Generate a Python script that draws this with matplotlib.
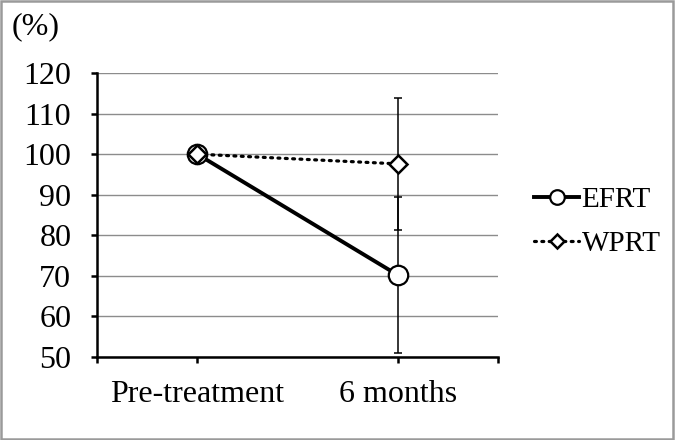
import matplotlib
matplotlib.use("Agg")
import matplotlib.pyplot as plt
from matplotlib.patches import Rectangle

categories = ["Pre-treatment", "6 months"]
efrt = [100, 70.2]
efrt_err = [0, 19.3]
wprt = [100, 97.6]
wprt_err = [0, 16.3]
yticks = [50, 60, 70, 80, 90, 100, 110, 120]

plt.rcParams['font.family'] = ['Liberation Serif', 'DejaVu Serif']
FS = 23

fig = plt.figure(figsize=(6.75, 4.4), dpi=100)
ax = fig.add_axes([97 / 675, 1 - 357 / 440, 401 / 675, 284 / 440])

x = list(range(len(categories)))

# error bars first so markers sit on top
ax.errorbar(x, wprt, yerr=wprt_err, fmt='none', ecolor='black', elinewidth=1.1,
            capsize=3, capthick=1.1, zorder=3)
ax.errorbar(x, efrt, yerr=efrt_err, fmt='none', ecolor='black', elinewidth=1.1,
            capsize=3, capthick=1.1, zorder=3)

ax.plot(x, efrt, color='black', lw=2.8, marker='o', ms=14, mfc='white',
        mec='black', mew=1.6, label='EFRT', zorder=4)
ax.plot(x, wprt, color='black', lw=2.3, ls=(0, (0.6, 1.7)), dash_capstyle='round',
        marker='D', ms=9, mfc='white', mec='black', mew=1.8, label='WPRT', zorder=5)

ax.set_xlim(-0.5, 1.5)
ax.set_ylim(50, 120)
ax.set_yticks(yticks)
ax.set_xticks(x)
ax.set_xticklabels(categories)
ax.set_xticks([-0.5, 1.5], minor=True)
ax.yaxis.grid(True, color='#8c8c8c', lw=1)
ax.set_axisbelow(True)

for s in ['top', 'right']:
    ax.spines[s].set_visible(False)
ax.spines['left'].set_linewidth(1.8)
ax.spines['bottom'].set_linewidth(1.8)
ax.tick_params(axis='both', which='both', direction='out', length=4.5, width=1.8,
               labelsize=FS, colors='black')
ax.tick_params(axis='y', pad=14)
ax.tick_params(axis='x', pad=12)

fig.text(12 / 675, 1 - 27 / 440, "(%)", fontsize=FS, va='center', ha='left')

leg = ax.legend(loc='center left', bbox_to_anchor=(534 / 675, 1 - 222 / 440),
                bbox_transform=fig.transFigure, frameon=False, fontsize=21,
                handlelength=1.55, handletextpad=0.08, labelspacing=0.6,
                borderpad=0, borderaxespad=0, markerscale=0.75)

fig.patches.append(Rectangle((0.002, 0.003), 0.995, 0.994, transform=fig.transFigure,
                             fill=False, edgecolor='#9a9a9a', lw=1.8))

fig.savefig("out.png", dpi=100)
